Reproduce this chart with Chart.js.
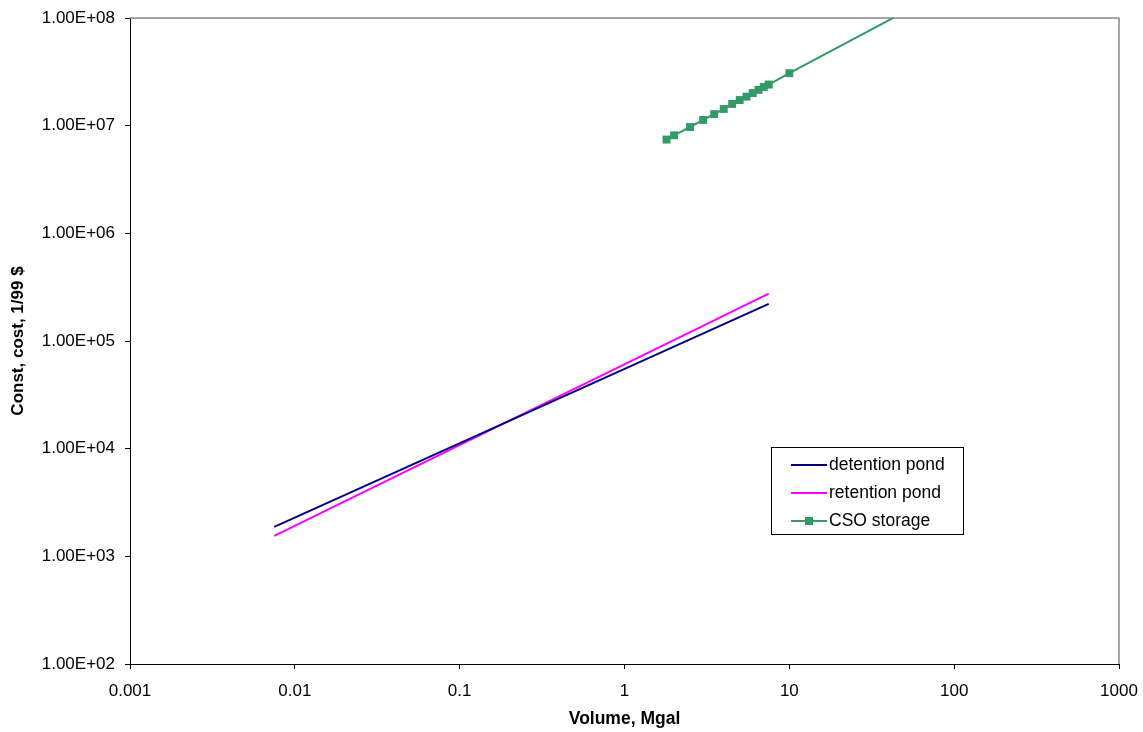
<!DOCTYPE html>
<html>
<head>
<meta charset="utf-8">
<script src="https://cdn.jsdelivr.net/npm/chart.js@4/dist/chart.umd.min.js"></script>
<style>
  html, body { margin: 0; padding: 0; background: #fff; }
  canvas { display: block; }
</style>
</head>
<body>
<canvas id="cost" width="1143" height="732"></canvas>
<script>
// volumes (Mgal) and construction costs (1/99 $)
const pondVolume = [0.0075, 7.5];
const detentionCost = [1880, 221000];
const retentionCost = [1550, 276000];

const csoVolume = [1.8, 2, 2.5, 3, 3.5, 4, 4.5, 5, 5.5, 6, 6.5, 7, 7.5, 10, 50];
const csoCost = [7.43e6, 8.14e6, 9.72e6, 1.13e7, 1.28e7, 1.43e7, 1.59e7, 1.73e7,
                 1.86e7, 2.01e7, 2.15e7, 2.29e7, 2.41e7, 3.07e7, 1.14e8];

const xTicks = [0.001, 0.01, 0.1, 1, 10, 100, 1000];
const yTicks = [1e2, 1e3, 1e4, 1e5, 1e6, 1e7, 1e8];

const FONT = "'Liberation Sans', Arial, sans-serif";

const pts = (xs, ys) => xs.map((x, i) => ({x: x, y: ys[i]}));

const sci = v => {
  const [m, e] = v.toExponential(2).toUpperCase().split('E');
  const sign = e[0];
  const digits = e.slice(1).padStart(2, '0');
  return m + 'E' + sign + digits;
};

// top/right frame of the plot area
const frame = {
  id: 'frame',
  beforeDatasetsDraw(chart) {
    const {ctx, chartArea: a} = chart;
    ctx.save();
    ctx.strokeStyle = '#888';
    ctx.lineWidth = 1.5;
    ctx.beginPath();
    ctx.moveTo(a.left, a.top);
    ctx.lineTo(a.right, a.top);
    ctx.lineTo(a.right, a.bottom);
    ctx.stroke();
    ctx.restore();
  }
};

// boxed legend inside the plot
const boxLegend = {
  id: 'boxLegend',
  afterDraw(chart) {
    const {ctx, chartArea: a} = chart;
    const x = a.left + 641, y = a.top + 429, w = 192, h = 87;
    ctx.save();
    ctx.fillStyle = '#fff';
    ctx.fillRect(x, y, w, h);
    ctx.strokeStyle = '#000';
    ctx.lineWidth = 1;
    ctx.strokeRect(x + 0.5, y + 0.5, w, h);
    ctx.font = '17.5px ' + FONT;
    ctx.textBaseline = 'middle';
    chart.data.datasets.forEach((ds, i) => {
      const cy = y + 18 + i * 28;
      ctx.strokeStyle = ds.borderColor;
      ctx.lineWidth = 2;
      ctx.beginPath();
      ctx.moveTo(x + 20, cy);
      ctx.lineTo(x + 56, cy);
      ctx.stroke();
      if (ds.pointRadius > 0) {
        ctx.fillStyle = ds.backgroundColor;
        ctx.fillRect(x + 34, cy - 4, 8, 8);
      }
      ctx.fillStyle = '#000';
      ctx.fillText(ds.label, x + 58, cy);
    });
    ctx.restore();
  }
};

const logAxis = (min, max, ticks, fmt, pad, extra) => Object.assign({
  type: 'logarithmic',
  min: min,
  max: max,
  afterBuildTicks: s => { s.ticks = ticks.map(v => ({value: v})); },
  grid: { drawOnChartArea: false, drawTicks: true, tickLength: 5, color: '#000' },
  border: { display: true, color: '#000', width: 1 },
  ticks: {
    autoSkip: false,
    maxRotation: 0,
    padding: pad,
    color: '#000',
    font: { family: FONT, size: 17 },
    callback: v => fmt(v)
  }
}, extra);

new Chart(document.getElementById('cost'), {
  type: 'scatter',
  data: {
    datasets: [
      {
        label: 'detention pond',
        data: pts(pondVolume, detentionCost),
        showLine: true,
        borderColor: '#000080',
        backgroundColor: '#000080',
        borderWidth: 2,
        pointRadius: 0
      },
      {
        label: 'retention pond',
        data: pts(pondVolume, retentionCost),
        showLine: true,
        borderColor: '#ff00ff',
        backgroundColor: '#ff00ff',
        borderWidth: 2,
        pointRadius: 0
      },
      {
        label: 'CSO storage',
        data: pts(csoVolume, csoCost),
        showLine: true,
        borderColor: '#339966',
        backgroundColor: '#339966',
        borderWidth: 2,
        pointStyle: 'rect',
        pointRadius: 5.6,
        pointBorderWidth: 0
      }
    ]
  },
  options: {
    responsive: false,
    animation: false,
    layout: { padding: { left: 0, right: 24, top: 18, bottom: 0 } },
    plugins: {
      legend: { display: false },
      tooltip: { enabled: false }
    },
    scales: {
      x: logAxis(0.001, 1000, xTicks, v => String(v), 12, {
        position: 'bottom',
        afterFit: s => { s.height = 68; s.paddingLeft = 0; s.paddingRight = 0; },
        title: {
          display: true,
          text: 'Volume, Mgal',
          color: '#000',
          font: { family: FONT, size: 17.5, weight: 'bold' },
          padding: { top: 0, bottom: 2 }
        }
      }),
      y: logAxis(100, 1e8, yTicks, sci, 10, {
        position: 'left',
        afterFit: s => { s.width = 130; s.paddingTop = 0; s.paddingBottom = 0; },
        title: {
          display: true,
          text: 'Const, cost, 1/99 $',
          color: '#000',
          font: { family: FONT, size: 17, weight: 'bold' },
          padding: { top: 8, bottom: 0 }
        }
      })
    }
  },
  plugins: [frame, boxLegend]
});
</script>
</body>
</html>
